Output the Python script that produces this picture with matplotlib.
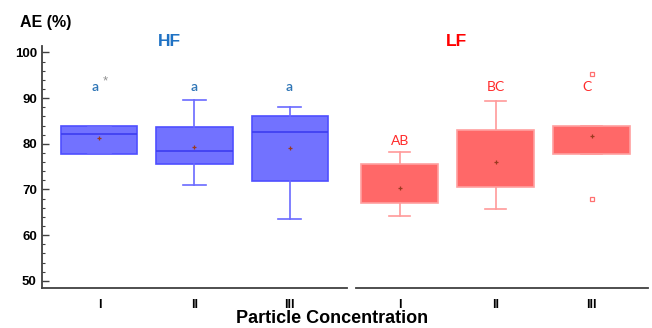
import matplotlib.pyplot as plt
import numpy as np

plt.rcParams['font.family'] = ['Liberation Sans', 'DejaVu Sans']

# categorias
concentracoes = ['I', 'II', 'III']

# HF: estatisticas
hf_q1 = [77.8, 75.6, 71.9]
hf_med = [82.1, 78.4, 82.5]
hf_q3 = [83.8, 83.6, 86.1]
hf_min = [77.8, 71.0, 63.5]
hf_max = [83.8, 89.6, 88.0]
hf_mean = [81.2, 79.4, 79.0]
hf_letras = ['a', 'a', 'a']

# LF
lf_q1 = [67.0, 70.6, 77.8]
lf_med = [71.0, 75.0, 81.0]
lf_q3 = [75.6, 83.0, 83.8]
lf_min = [64.2, 65.7, 77.8]
lf_max = [78.2, 89.3, 83.8]
lf_mean = [70.4, 76.1, 81.6]
lf_fliers = [[], [], [95.3, 67.9]]
lf_letras = ['AB', 'BC', 'C']
lf_letras_y = [80.7, 92.4, 92.4]


def monta_stats(q1, med, q3, lo, hi, mean, fliers=None):
    stats = []
    for i in range(len(q1)):
        stats.append(dict(q1=q1[i], med=med[i], q3=q3[i], whislo=lo[i],
                          whishi=hi[i], mean=mean[i],
                          fliers=fliers[i] if fliers else []))
    return stats


fig = plt.figure(figsize=(6.52, 3.28), dpi=100)
ax1 = fig.add_axes([0.0649, 0.123, 0.4668, 0.738])
ax2 = fig.add_axes([0.5455, 0.123, 0.4485, 0.738], sharey=ax1)

pos = [1, 2, 3]
cor_eixo = '#404040'

# HF
ax1.bxp(monta_stats(hf_q1, hf_med, hf_q3, hf_min, hf_max, hf_mean),
        positions=pos, widths=0.8, patch_artist=True, showmeans=True,
        showcaps=True, capwidths=0.24,
        boxprops=dict(facecolor='#7272ff', edgecolor='#4f4fff', linewidth=1.2),
        whiskerprops=dict(color='#6a6aff', linewidth=1.2),
        capprops=dict(color='#6a6aff', linewidth=1.2),
        medianprops=dict(color='#3c3cf0', linewidth=1.2),
        meanprops=dict(marker='+', markeredgecolor='#9a3a20', markersize=3,
                       markeredgewidth=0.9))

# LF
ax2.bxp(monta_stats(lf_q1, lf_med, lf_q3, lf_min, lf_max, lf_mean, lf_fliers),
        positions=pos, widths=0.8, patch_artist=True, showmeans=True,
        capwidths=0.22,
        boxprops=dict(facecolor='#ff6868', edgecolor='#ffa0a0', linewidth=1.2),
        whiskerprops=dict(color='#ff9a9a', linewidth=1.2),
        capprops=dict(color='#ff9a9a', linewidth=1.2),
        medianprops=dict(color='#ff6868', linewidth=0),
        flierprops=dict(marker='s', markersize=3.2, markerfacecolor='none',
                        markeredgecolor='#ff7070', markeredgewidth=0.9),
        meanprops=dict(marker='+', markeredgecolor='#9a3a20', markersize=3,
                       markeredgewidth=0.9))

ax1.set_xlim(0.4, 3.6)
ax2.set_xlim(0.54, 3.59)
ax1.set_ylim(48.5, 101.5)
ax1.set_yticks([50, 60, 70, 80, 90, 100])
ax1.set_yticks(np.arange(50, 101, 2), minor=True)

for ax in (ax1, ax2):
    ax.set_xticks(pos)
    ax.set_xticklabels(concentracoes, fontweight='bold', fontsize=9)
    ax.tick_params(axis='x', length=0, pad=8)
    for s in ('top', 'right'):
        ax.spines[s].set_visible(False)
    ax.spines['bottom'].set_color(cor_eixo)
    ax.spines['bottom'].set_linewidth(1.3)

ax1.spines['left'].set_color(cor_eixo)
ax1.spines['left'].set_linewidth(1.3)
ax1.tick_params(axis='y', which='major', direction='in', length=5,
                width=1, color=cor_eixo, pad=4)
ax1.tick_params(axis='y', which='minor', direction='in', length=2.5,
                width=0.8, color=cor_eixo)
for lbl in ax1.get_yticklabels():
    lbl.set_fontweight('bold')
    lbl.set_fontsize(9.5)

ax2.spines['left'].set_visible(False)
ax2.tick_params(axis='y', which='both', left=False, labelleft=False)

# letras de significancia
for i, l in enumerate(hf_letras):
    dx = -0.05 if i == 0 else 0
    ax1.text(pos[i] + dx, 92.4, l, color='#2e75b6', fontsize=10,
             ha='center', va='center', family='Lato', fontweight='semibold')
ax1.text(1.06, 93.6, '*', color='#909090', fontsize=9.5, ha='center',
         va='center')
for i, l in enumerate(lf_letras):
    dx = -0.05 if i == 2 else 0
    ax2.text(pos[i] + dx, lf_letras_y[i], l, color='#ff2a2a', fontsize=10,
             ha='center', va='center', family='Lato')

ax1.text(1.74, 102.3, 'HF', color='#1f72c4', fontsize=12.5, fontweight='bold',
         ha='center', va='center', clip_on=False)
ax2.text(1.59, 102.3, 'LF', color='#ff0000', fontsize=12.5, fontweight='bold',
         ha='center', va='center', clip_on=False)

fig.text(0.0307, 0.93, 'AE (%)', fontsize=11.5, fontweight='bold', ha='left',
         va='center')
fig.text(0.51, 0.03, 'Particle Concentration', fontsize=13, fontweight='bold',
         ha='center', va='center')

fig.savefig('out.png', dpi=100)
